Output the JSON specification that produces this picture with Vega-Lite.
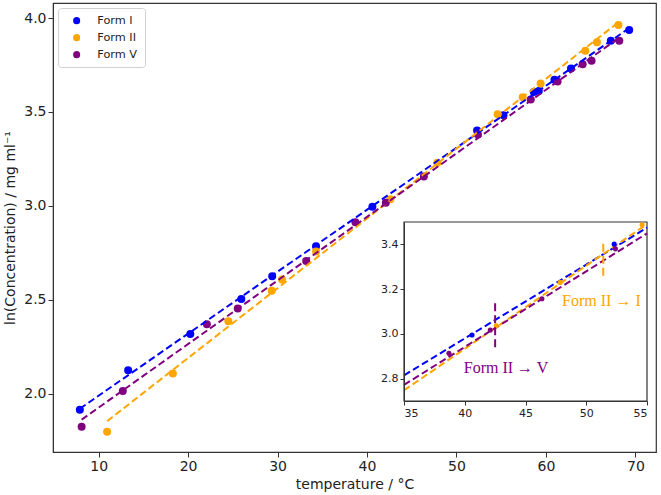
{
  "$schema": "https://vega.github.io/schema/vega-lite/v6.json",
  "width": 603,
  "height": 449,
  "autosize": {"type": "none"},
  "padding": {"left": 53, "top": 3, "right": 5, "bottom": 43},
  "config": {
    "view": {"stroke": "#333", "strokeWidth": 1.2},
    "font": "DejaVu Sans",
    "axis": {
      "labelFont": "DejaVu Sans",
      "titleFont": "DejaVu Sans",
      "labelFontSize": 14,
      "titleFontSize": 14,
      "titleFontWeight": "normal",
      "labelColor": "#222",
      "titleColor": "#222",
      "tickColor": "#333",
      "domainColor": "#333",
      "tickSize": 5,
      "grid": false
    }
  },
  "datasets": {
    "pts": [
      {"form": "Form I", "temp": 7.9, "lnc": 1.915},
      {"form": "Form I", "temp": 13.3, "lnc": 2.125},
      {"form": "Form I", "temp": 20.25, "lnc": 2.318},
      {"form": "Form I", "temp": 25.95, "lnc": 2.504},
      {"form": "Form I", "temp": 29.4, "lnc": 2.626},
      {"form": "Form I", "temp": 34.3, "lnc": 2.785},
      {"form": "Form I", "temp": 40.6, "lnc": 2.995},
      {"form": "Form I", "temp": 52.3, "lnc": 3.401},
      {"form": "Form I", "temp": 55.25, "lnc": 3.483},
      {"form": "Form I", "temp": 58.65, "lnc": 3.606},
      {"form": "Form I", "temp": 59.2, "lnc": 3.612},
      {"form": "Form I", "temp": 60.95, "lnc": 3.672},
      {"form": "Form I", "temp": 62.8, "lnc": 3.731},
      {"form": "Form I", "temp": 67.25, "lnc": 3.879},
      {"form": "Form I", "temp": 69.3, "lnc": 3.936},
      {"form": "Form II", "temp": 10.95, "lnc": 1.798},
      {"form": "Form II", "temp": 18.3, "lnc": 2.108},
      {"form": "Form II", "temp": 24.5, "lnc": 2.386},
      {"form": "Form II", "temp": 29.35, "lnc": 2.548},
      {"form": "Form II", "temp": 30.5, "lnc": 2.608},
      {"form": "Form II", "temp": 34.3, "lnc": 2.757},
      {"form": "Form II", "temp": 42.6, "lnc": 3.036},
      {"form": "Form II", "temp": 47.85, "lnc": 3.23},
      {"form": "Form II", "temp": 54.6, "lnc": 3.488},
      {"form": "Form II", "temp": 57.4, "lnc": 3.578},
      {"form": "Form II", "temp": 59.4, "lnc": 3.652},
      {"form": "Form II", "temp": 64.4, "lnc": 3.826},
      {"form": "Form II", "temp": 65.7, "lnc": 3.871},
      {"form": "Form II", "temp": 68.1, "lnc": 3.963},
      {"form": "Form V", "temp": 8.1, "lnc": 1.825},
      {"form": "Form V", "temp": 12.7, "lnc": 2.015},
      {"form": "Form V", "temp": 22.1, "lnc": 2.37},
      {"form": "Form V", "temp": 25.55, "lnc": 2.454},
      {"form": "Form V", "temp": 33.2, "lnc": 2.707},
      {"form": "Form V", "temp": 38.7, "lnc": 2.913},
      {"form": "Form V", "temp": 42.1, "lnc": 3.017},
      {"form": "Form V", "temp": 46.35, "lnc": 3.157},
      {"form": "Form V", "temp": 52.4, "lnc": 3.38},
      {"form": "Form V", "temp": 58.3, "lnc": 3.566},
      {"form": "Form V", "temp": 61.3, "lnc": 3.662},
      {"form": "Form V", "temp": 64.1, "lnc": 3.754},
      {"form": "Form V", "temp": 65.1, "lnc": 3.773},
      {"form": "Form V", "temp": 68.2, "lnc": 3.879}
    ],
    "frame": [
      {"x1": 35, "x2": 55, "y1": 2.7, "y2": 3.5}
    ],
    "transitions": [
      {"form": "Form V", "temp": 42.5, "lo": 2.94, "hi": 3.14},
      {"form": "Form II", "temp": 51.4, "lo": 3.26, "hi": 3.415}
    ],
    "labels": [
      {"form": "Form II", "temp": 51.25, "lnc": 3.147, "text": "Form II → I"},
      {"form": "Form V", "temp": 43.4, "lnc": 2.849, "text": "Form II → V"}
    ]
  },
  "layer": [
    {
      "data": {"name": "pts"},
      "encoding": {
        "x": {
          "field": "temp", "type": "quantitative",
          "scale": {"domain": [4.9, 72.3], "nice": false, "zero": false},
          "axis": {"title": "temperature / °C", "values": [10, 20, 30, 40, 50, 60, 70], "titlePadding": 4}
        },
        "y": {
          "field": "lnc", "type": "quantitative",
          "scale": {"domain": [1.69, 4.08], "nice": false, "zero": false},
          "axis": {"title": "ln(Concentration) / mg ml⁻¹", "values": [2.0, 2.5, 3.0, 3.5, 4.0], "format": ".1f", "titlePadding": 6}
        },
        "color": {
          "field": "form", "type": "nominal",
          "scale": {"domain": ["Form I", "Form II", "Form V"], "range": ["#0000ff", "#ffa500", "#800080"]},
          "legend": {
            "title": null, "orient": "top-left", "offset": 5,
            "symbolType": "circle", "symbolSize": 50, "symbolStrokeWidth": 0, "symbolOffset": 6,
            "labelFontSize": 11.3, "labelFont": "DejaVu Sans", "labelColor": "#222",
            "labelOffset": 15, "rowPadding": 5, "padding": 7,
            "strokeColor": "#d0d0d0", "fillColor": "white", "cornerRadius": 3
          }
        }
      },
      "layer": [
        {"mark": {"type": "circle", "size": 64, "opacity": 1}},
        {
          "transform": [{"regression": "lnc", "on": "temp", "groupby": ["form"]}],
          "mark": {"type": "line", "strokeWidth": 2, "strokeDash": [7, 3.5]}
        }
      ]
    },
    {
      "encoding": {
        "x": {
          "field": "temp", "type": "quantitative",
          "scale": {"domain": [35, 55], "range": [351, 594], "nice": false, "zero": false},
          "axis": {"title": null, "orient": "bottom", "offset": -51, "values": [35, 40, 45, 50, 55], "labelFontSize": 11, "zindex": 2, "tickSize": 4}
        },
        "y": {
          "field": "lnc", "type": "quantitative",
          "scale": {"domain": [2.7, 3.5], "range": [398, 219], "nice": false, "zero": false},
          "axis": {"title": null, "orient": "left", "offset": -351, "values": [2.8, 3.0, 3.2, 3.4], "format": ".1f", "labelFontSize": 11, "zindex": 2, "tickSize": 4}
        }
      },
      "layer": [
        {
          "data": {"name": "frame"},
          "mark": {"type": "rect", "fill": "white", "stroke": "#333", "strokeWidth": 1.2},
          "encoding": {
            "x": {"field": "x1", "type": "quantitative"},
            "x2": {"field": "x2"},
            "y": {"field": "y1", "type": "quantitative"},
            "y2": {"field": "y2"}
          }
        },
        {
          "data": {"name": "pts"},
          "transform": [{"regression": "lnc", "on": "temp", "groupby": ["form"], "extent": [35, 55]}],
          "mark": {"type": "line", "strokeWidth": 2, "strokeDash": [7, 3.5]},
          "encoding": {"color": {"field": "form", "type": "nominal", "legend": null}}
        },
        {
          "data": {"name": "pts"},
          "transform": [{"filter": {"field": "temp", "range": [35, 55]}}],
          "mark": {"type": "circle", "size": 26, "opacity": 1},
          "encoding": {"color": {"field": "form", "type": "nominal", "legend": null}}
        },
        {
          "data": {"name": "transitions"},
          "mark": {"type": "rule", "strokeWidth": 2, "strokeDash": [8, 4]},
          "encoding": {
            "y": {"field": "lo", "type": "quantitative"},
            "y2": {"field": "hi"},
            "color": {"field": "form", "type": "nominal", "legend": null}
          }
        },
        {
          "data": {"name": "labels"},
          "mark": {"type": "text", "font": "Liberation Serif", "fontSize": 16, "align": "center", "baseline": "middle"},
          "encoding": {
            "text": {"field": "text"},
            "color": {"field": "form", "type": "nominal", "legend": null}
          }
        }
      ]
    }
  ],
  "resolve": {
    "scale": {"x": "independent", "y": "independent"},
    "axis": {"x": "independent", "y": "independent"}
  }
}
